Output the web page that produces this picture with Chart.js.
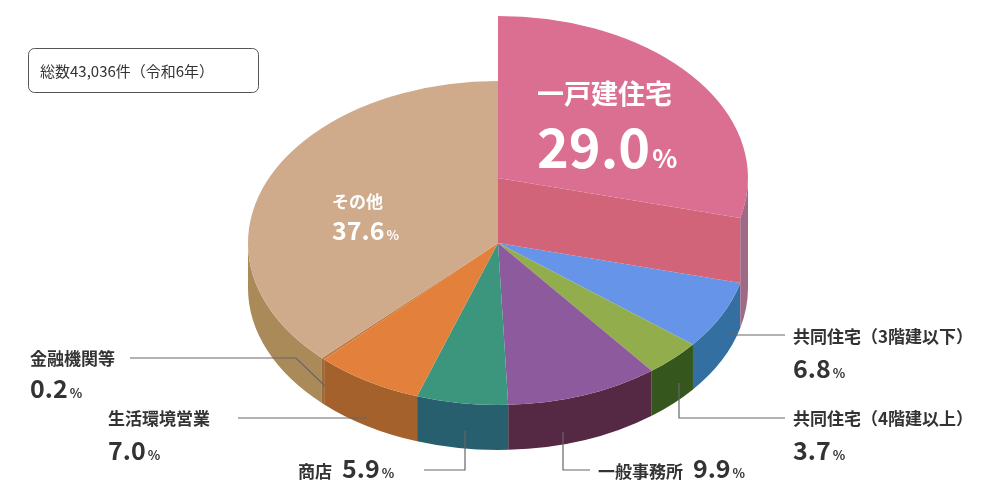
<!DOCTYPE html>
<html><head><meta charset="utf-8">
<script src="https://cdn.jsdelivr.net/npm/chart.js@4/dist/chart.umd.min.js"></script>
<style>html,body{margin:0;background:#fff}#wrap{width:1000px;height:500px}</style>
</head><body><div id="wrap"><canvas id="c"></canvas></div>
<script>
const categories = ['一戸建住宅', '共同住宅（3階建以下）', '共同住宅（4階建以上）', '一般事務所', '商店', '生活環境営業', '金融機関等', 'その他'];
const shares     = [29.0, 6.8, 3.7, 9.9, 5.9, 7.0, 0.2, 37.6];
const topColors  = ['#db6f92', '#6594e8', '#92ad4c', '#8e5a9e', '#3c967e', '#e2803c', '#c47a40', '#cfab8c'];
const wallColors = ['#9e6a86', '#336fa0', '#35571d', '#552844', '#285f6e', '#a4612c', '#9a6a3a', '#ab8a5a'];
const totalNote  = '総数43,036件（令和6年）';

/* ── 3D PIE GEOMETRY ─────────────────────────────────────── */
const CX = 498, CY = 243, RX = 250, RY = 162, DEPTH = 45, LIFT = 65;
const FONT = '"Noto Sans CJK JP", "Noto Sans", sans-serif';

function wall(ctx, a0, a1, top, bottom, color) {
  const s = Math.max(a0, 0), e = Math.min(a1, Math.PI);
  if (e <= s) return;
  ctx.beginPath();
  ctx.ellipse(CX, CY + top, RX, RY, 0, s, e);
  ctx.ellipse(CX, CY + bottom, RX, RY, 0, e, s, true);
  ctx.closePath();
  ctx.fillStyle = color; ctx.fill();
}
function face(ctx, a0, a1, off, color) {
  ctx.beginPath();
  ctx.moveTo(CX, CY + off);
  ctx.ellipse(CX, CY + off, RX, RY, 0, a0, a1);
  ctx.closePath();
  ctx.fillStyle = color; ctx.fill();
}

const pie3d = {
  id: 'pie3d',
  beforeDatasetsDraw(chart) {
    const ctx = chart.ctx;
    const arcs = chart.getDatasetMeta(0).data;
    ctx.save();
    // side walls of the flat slices
    arcs.forEach((a, i) => { if (i > 0) wall(ctx, a.startAngle, a.endAngle, 0, DEPTH, wallColors[i]); });
    arcs.forEach((a, i) => { if (i > 0) face(ctx, a.startAngle, a.endAngle, 0, topColors[i]); });
    // raised slice: cut face, outer wall, top
    const p = arcs[0];
    const ex = CX + RX * Math.cos(p.endAngle), ey = CY + RY * Math.sin(p.endAngle);
    ctx.beginPath();
    ctx.moveTo(CX, CY - LIFT); ctx.lineTo(ex, ey - LIFT); ctx.lineTo(ex, ey); ctx.lineTo(CX, CY);
    ctx.closePath(); ctx.fillStyle = '#d26479'; ctx.fill();
    wall(ctx, p.startAngle, p.endAngle, -LIFT, DEPTH, wallColors[0]);
    face(ctx, p.startAngle, p.endAngle, -LIFT, topColors[0]);
    ctx.restore();
    return false;
  },
  afterDraw(chart) {
    const ctx = chart.ctx;
    ctx.save();
    // total box
    ctx.strokeStyle = '#555'; ctx.lineWidth = 1;
    ctx.beginPath(); ctx.roundRect(28.5, 48.5, 230, 44, 6); ctx.stroke();
    ctx.fillStyle = '#333'; ctx.font = '15px ' + FONT; ctx.textBaseline = 'alphabetic';
    ctx.fillText(totalNote, 40, 77);

    const pct = (v) => v.toFixed(1);
    function big(label, val, x, y1, y2, ls, vs, ps, color) {
      ctx.fillStyle = color;
      ctx.font = 'bold ' + ls + 'px ' + FONT; ctx.fillText(label, x, y1);
      ctx.font = 'bold ' + vs + 'px ' + FONT; const t = pct(val); ctx.fillText(t, x, y2);
      const w = ctx.measureText(t).width;
      ctx.font = 'bold ' + ps + 'px ' + FONT; ctx.fillText('%', x + w + 2, y2);
    }
    function inline(label, val, x, y, ls, vs, ps) {
      ctx.fillStyle = '#333';
      ctx.font = 'bold ' + ls + 'px ' + FONT; ctx.fillText(label, x, y);
      let w = ctx.measureText(label).width + 10;
      ctx.font = 'bold ' + vs + 'px ' + FONT; const t = pct(val); ctx.fillText(t, x + w, y);
      w += ctx.measureText(t).width + 2;
      ctx.font = 'bold ' + ps + 'px ' + FONT; ctx.fillText('%', x + w, y);
    }
    big(categories[0], shares[0], 537, 104, 168, 27, 54, 26, '#fff');
    big(categories[7], shares[7], 332, 208, 240, 17, 25, 13, '#fff');
    big(categories[1], shares[1], 793, 343, 378, 17, 25, 13, '#333');
    big(categories[2], shares[2], 793, 425, 460, 17, 25, 13, '#333');
    big(categories[5], shares[5], 108, 425, 460, 17, 25, 13, '#333');
    big(categories[6], shares[6], 30, 365, 398, 17, 25, 13, '#333');
    inline(categories[3], shares[3], 598, 478, 17, 25, 13);
    inline(categories[4], shares[4], 298, 478, 17, 25, 13);
    // leader lines
    ctx.strokeStyle = '#666'; ctx.lineWidth = 1.2;
    const seg = (pts) => { ctx.beginPath(); ctx.moveTo(pts[0][0], pts[0][1]); pts.slice(1).forEach(q => ctx.lineTo(q[0], q[1])); ctx.stroke(); };
    seg([[729, 335], [785, 335]]);
    seg([[679, 383], [679, 418], [785, 418]]);
    seg([[563, 432], [563, 470], [590, 470]]);
    seg([[465, 431], [465, 470], [424, 470]]);
    seg([[367, 418], [238, 418]]);
    seg([[130, 358], [296, 358], [325, 386]]);
    ctx.restore();
  }
};

new Chart(document.getElementById('c'), {
  type: 'pie',
  data: { labels: categories, datasets: [{ data: shares, backgroundColor: topColors, borderWidth: 0 }] },
  options: {
    responsive: true, maintainAspectRatio: false, animation: false,
    plugins: { legend: { display: false }, tooltip: { enabled: false } }
  },
  plugins: [pie3d]
});
</script></body></html>
